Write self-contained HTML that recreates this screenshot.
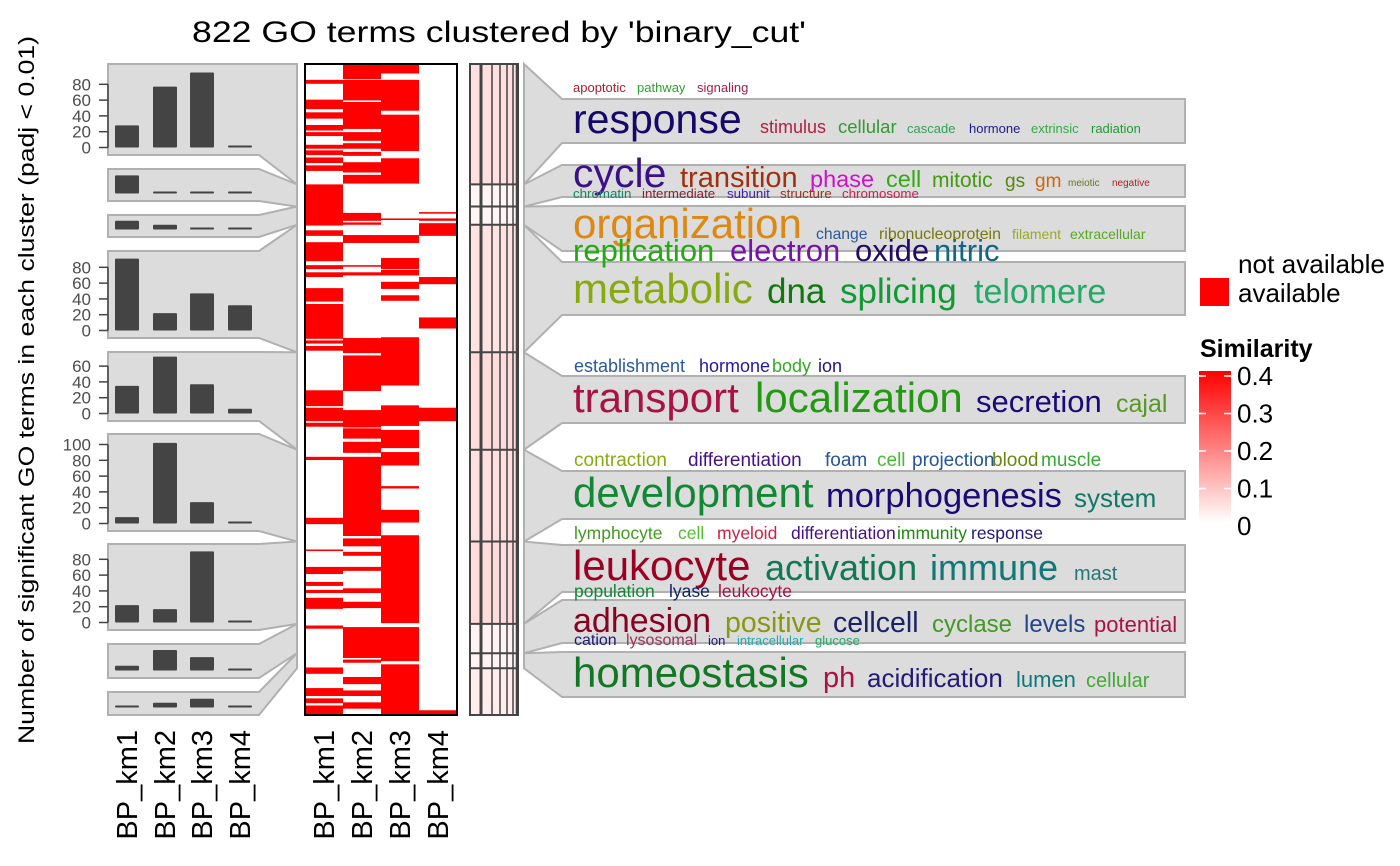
<!DOCTYPE html>
<html><head><meta charset="utf-8"><style>
html,body{margin:0;padding:0;background:#fff;}
svg{display:block;font-family:"Liberation Sans",Arial,sans-serif;}
</style></head><body>
<svg id="chart" width="1400" height="866" viewBox="0 0 1400 866" xmlns="http://www.w3.org/2000/svg">
<text x="192" y="42" font-size="30" textLength="614" lengthAdjust="spacingAndGlyphs" fill="#000">822 GO terms clustered by 'binary_cut'</text>
<text transform="translate(34,390) rotate(-90)" text-anchor="middle" font-size="22" textLength="708" lengthAdjust="spacingAndGlyphs" fill="#000">Number of significant GO terms in each cluster (padj &lt; 0.01)</text>
<g id="left"></g>
<g id="heat"></g>
<g id="strip"></g>
<g id="right"></g>
<g id="words">
 <g font-size="13"><text x="573" y="92" fill="#a81c2c">apoptotic</text><text x="637" y="92" fill="#2ca02c">pathway</text><text x="697" y="92" fill="#a0204a">signaling</text></g>
 <text x="573" y="133" font-size="41" fill="#16086b">response</text>
 <text x="760" y="133" font-size="18" fill="#b22040">stimulus</text>
 <text x="838" y="133" font-size="18.5" fill="#339933">cellular</text>
 <g font-size="13"><text x="907" y="133" fill="#33a055">cascade</text><text x="969" y="133" fill="#1a1a88">hormone</text><text x="1031" y="133" fill="#33aa44">extrinsic</text><text x="1091" y="133" fill="#229933">radiation</text></g>
 <text x="573" y="187" font-size="41" fill="#3b0f8a">cycle</text>
 <text x="680" y="187" font-size="29" fill="#a0300f">transition</text>
 <text x="810" y="187" font-size="23.5" fill="#cc11cc">phase</text>
 <text x="886" y="187" font-size="23.5" fill="#33aa11">cell</text>
 <text x="932" y="187" font-size="21" fill="#449911">mitotic</text>
 <text x="1005" y="187" font-size="19" fill="#558811">gs</text>
 <text x="1035" y="187" font-size="19" fill="#cc6611">gm</text>
 <text x="1068" y="186" font-size="10" fill="#667722">meiotic</text>
 <text x="1112" y="186" font-size="10" fill="#aa2222">negative</text>
 <g font-size="13.3"><text x="573" y="198" fill="#118866">chromatin</text><text x="642" y="198" fill="#882233">intermediate</text><text x="727" y="198" fill="#4422aa">subunit</text><text x="780" y="198" fill="#993322">structure</text><text x="842" y="198" fill="#cc2255">chromosome</text></g>
 <text x="573" y="238" font-size="42" fill="#dd8811">organization</text>
 <text x="816" y="239" font-size="15.7" fill="#2a5a99">change</text>
 <text x="879" y="239" font-size="15.9" fill="#777711">ribonucleoprotein</text>
 <text x="1012" y="239" font-size="14" fill="#99aa22">filament</text>
 <text x="1070" y="239" font-size="14" fill="#55aa22">extracellular</text>
 <text x="573" y="261" font-size="31" fill="#22aa11">replication</text>
 <text x="730" y="261" font-size="31" fill="#7711aa">electron</text>
 <text x="855" y="261" font-size="31" fill="#220a66">oxide</text>
 <text x="934" y="261" font-size="31" fill="#116688">nitric</text>
 <text x="573" y="303" font-size="42" fill="#88aa11">metabolic</text>
 <text x="767" y="303" font-size="35" fill="#117711">dna</text>
 <text x="840" y="303" font-size="35" fill="#119933">splicing</text>
 <text x="974" y="303" font-size="34" fill="#22aa66">telomere</text>
 <g font-size="18"><text x="574" y="372" fill="#2a5a99">establishment</text><text x="699" y="372" fill="#221a99">hormone</text><text x="772" y="372" fill="#33aa22">body</text><text x="818" y="372" fill="#1a1a77">ion</text></g>
 <text x="573" y="412" font-size="42" fill="#aa1144">transport</text>
 <text x="755" y="412" font-size="42" fill="#229911">localization</text>
 <text x="976" y="412" font-size="31" fill="#1a0a77">secretion</text>
 <text x="1116" y="412" font-size="25" fill="#559922">cajal</text>
 <g font-size="19"><text x="574" y="466" fill="#88aa11">contraction</text><text x="688" y="466" fill="#441188">differentiation</text><text x="825" y="466" fill="#225599">foam</text><text x="877" y="466" fill="#44bb33">cell</text><text x="912" y="466" fill="#225599">projection</text><text x="992" y="466" fill="#668811">blood</text><text x="1041" y="466" fill="#33aa33">muscle</text></g>
 <text x="573" y="507" font-size="42" fill="#118833">development</text>
 <text x="826" y="507" font-size="34.5" fill="#1a0a77">morphogenesis</text>
 <text x="1074" y="507" font-size="26" fill="#117766">system</text>
 <g font-size="17.5"><text x="574" y="539" fill="#449922">lymphocyte</text><text x="678" y="539" fill="#55bb33">cell</text><text x="717" y="539" fill="#cc2244">myeloid</text><text x="791" y="539" fill="#441188">differentiation</text><text x="897" y="539" fill="#228811">immunity</text><text x="971" y="539" fill="#221a77">response</text></g>
 <text x="573" y="580" font-size="42" fill="#990022">leukocyte</text>
 <text x="765" y="580" font-size="36" fill="#117755">activation</text>
 <text x="930" y="580" font-size="36" fill="#117777">immune</text>
 <text x="1074" y="580" font-size="20" fill="#227777">mast</text>
 <g font-size="17.5"><text x="574" y="597" fill="#118833">population</text><text x="669" y="597" fill="#112266">lyase</text><text x="718" y="597" fill="#aa1144">leukocyte</text></g>
 <text x="573" y="632" font-size="34" fill="#880022">adhesion</text>
 <text x="725" y="632" font-size="28.5" fill="#889911">positive</text>
 <text x="833" y="632" font-size="28.5" fill="#1a2266">cellcell</text>
 <text x="932" y="632" font-size="24" fill="#449922">cyclase</text>
 <text x="1024" y="632" font-size="24" fill="#224488">levels</text>
 <text x="1094" y="632" font-size="22" fill="#aa1144">potential</text>
 <g font-size="16"><text x="574" y="645" fill="#221a77">cation</text><text x="626" y="645" fill="#993355">lysosomal</text><text x="708" y="645" font-size="13" fill="#1a1a77">ion</text><text x="737" y="645" font-size="13" fill="#22aaaa">intracellular</text><text x="815" y="645" font-size="13" fill="#22aa66">glucose</text></g>
 <text x="573" y="687" font-size="42" fill="#117722">homeostasis</text>
 <text x="823" y="687" font-size="29" fill="#aa1144">ph</text>
 <text x="867" y="687" font-size="26" fill="#221a77">acidification</text>
 <text x="1016" y="687" font-size="22" fill="#117777">lumen</text>
 <text x="1086" y="687" font-size="20" fill="#44aa33">cellular</text>
</g>
<g id="legend">
 <text x="1238" y="273" font-size="26" textLength="147" lengthAdjust="spacingAndGlyphs" fill="#000">not available</text>
 <rect x="1200" y="278" width="29" height="28" fill="#ff0000"/>
 <text x="1238" y="302" font-size="26" fill="#000">available</text>
 <text x="1200" y="357" font-size="25" font-weight="bold" fill="#000">Similarity</text>
 <defs><linearGradient id="sg" x1="0" y1="1" x2="0" y2="0"><stop offset="0" stop-color="#ffffff"/><stop offset="1" stop-color="#ff0000"/></linearGradient></defs>
 <rect x="1199" y="371" width="32" height="152" fill="url(#sg)"/>
 <g id="cbticks"></g>
</g>
<g id="xlabels"></g>
</svg>
<script>
const NS='http://www.w3.org/2000/svg';
function mk(parent,tag,attrs){const e=document.createElementNS(NS,tag);for(const k in attrs)e.setAttribute(k,attrs[k]);parent.appendChild(e);return e;}
// ---------- data ----------
const columns=['BP_km1','BP_km2','BP_km3','BP_km4'];
const totalTerms=822;
const clusterBreaks=[0,152,180,203,364,487,603,707,744,763,822];
const barKm1=[28,23,11,91,35,8,22,6,1];
const barKm2=[77,1,6,22,72,102,17,26,6];
const barKm3=[95,1,2,47,37,27,90,17,11];
const barKm4=[1,1,2,32,6,1,1,1,1];
const panelTicks=[[0,20,40,60,80],[],[],[0,20,40,60,80],[0,20,40,60],[0,20,40,60,80,100],[0,20,40,60,80],[],[]];
const simValues=[0.05,0.015,0.015,0.045,0.055,0.05,0.055,0.02,0.02,0.03];
const cbTicks=[0,0.1,0.2,0.3,0.4];
const heatKm1=[[20,24],[45,56],[61,68],[77,83],[86,90],[102,106],[109,114],[118,124],[128,134],[152,203],[210,216],[225,248],[254,258],[263,268],[283,299],[303,346],[349,352],[356,361],[412,431],[434,450],[453,457],[496,499],[573,580],[613,614],[635,643],[654,658],[664,667],[674,687],[709,712],[762,769],[788,797],[801,806],[810,820]];
const heatKm2=[[1,18],[20,45],[48,81],[86,96],[100,106],[111,115],[124,136],[140,150],[188,197],[200,202],[216,225],[254,255],[263,266],[346,364],[368,412],[437,458],[460,472],[477,490],[496,595],[599,608],[616,620],[635,639],[662,667],[679,686],[711,749],[752,755],[774,782],[791,797],[806,813]];
const heatKm3=[[1,11],[20,58],[64,109],[119,150],[195,196],[216,225],[245,258],[260,266],[275,283],[292,298],[345,405],[431,456],[462,484],[490,506],[533,535],[563,578],[595,705],[711,753],[758,820]];
const heatKm4=[[187,188],[195,197],[201,216],[269,277],[320,333],[434,450],[816,820]];
// ---------- layout ----------
const H0=64,H1=715;
const yRow=r=>H0+(H1-H0)*r/totalTerms;
const unitPx=0.79;
const leftPanels=[[64,155],[169,201],[215,237],[251,338],[352,421],[434,531],[544,630],[644,678],[692,715]];
const rightPanels=[[99,143],[165,197],[206,251],[262,315],[376,423],[471,519],[545,592],[600,643],[652,697]];
const barX=[127,165,202,240];
const L=document.getElementById('left');
const barSeries=[barKm1,barKm2,barKm3,barKm4];
leftPanels.forEach((p,i)=>{
 const ct=yRow(clusterBreaks[i]),cb=yRow(clusterBreaks[i+1]);
 const poly=mk(L,'polygon',{points:`108,${p[0]} 259,${p[0]} 297,${ct} 297,${cb} 259,${p[1]} 108,${p[1]}`,fill:'#dcdcdc',stroke:'#b0b0b0','stroke-width':2});
 
 
 const zero=p[1]-7.5;
 const yv=v=>zero-v*unitPx;
 barSeries.forEach((s,j)=>{
  const h=Math.max(s[i]*unitPx,2);
  const r=mk(L,'rect',{x:barX[j]-12,y:zero-h,width:24,height:h,fill:'#444444',rx:1});
  
  
 });
 const t=panelTicks[i];
 if(t.length){
  const ax=mk(L,'line',{x1:108,x2:108,y1:yv(0),y2:yv(t[t.length-1]),stroke:'#444',"stroke-width":1.5});
  
  
  t.forEach(v=>{
   mk(L,'line',{x1:99,x2:108,y1:yv(v),y2:yv(v),stroke:'#444',"stroke-width":1.5});
   const tx=mk(L,'text',{x:91,y:yv(v)+6,'text-anchor':'end','font-size':17,fill:'#4d4d4d'});
   tx.textContent=v;
   
   
  });
 }
});
const HM=document.getElementById('heat');
const hx=[305,343,381,419];
[heatKm1,heatKm2,heatKm3,heatKm4].forEach((segs,j)=>{
 segs.forEach(s=>{
  const y0=yRow(s[0]),y1=yRow(s[1]+1);
  const r=mk(HM,'rect',{x:hx[j],y:y0,width:38,height:Math.max(y1-y0,1),fill:'#ff0000'});
  
  
 });
});
const hb=mk(HM,'rect',{x:305,y:64,width:152,height:651,fill:'none',stroke:'#000','stroke-width':2});


const S=document.getElementById('strip');
simValues.forEach((v,i)=>{
 const f=Math.min(v/0.4,1);const g=Math.round(255*(1-f));
 const r=mk(S,'rect',{x:470,y:yRow(clusterBreaks[i]),width:48,height:yRow(clusterBreaks[i+1])-yRow(clusterBreaks[i]),fill:`rgb(255,${g},${g})`});
 
 
});
[[481,3],[492,1.5],[500,1.5],[507,1.5],[513,1.5],[517,2.5]].forEach(a=>mk(S,'line',{x1:a[0],x2:a[0],y1:64,y2:715,stroke:'#444','stroke-width':a[1]}));
clusterBreaks.slice(1,-1).forEach(b=>mk(S,'line',{x1:470,x2:518,y1:yRow(b),y2:yRow(b),stroke:'#444','stroke-width':2}));
const sb=mk(S,'rect',{x:470,y:64,width:48,height:651,fill:'none',stroke:'#444','stroke-width':2});


const R=document.getElementById('right');
rightPanels.forEach((p,i)=>{
 const ct=yRow(clusterBreaks[i]),cb=yRow(clusterBreaks[i+1]);
 const poly=mk(R,'polygon',{points:`524,${ct} 562,${p[0]} 1185,${p[0]} 1185,${p[1]} 562,${p[1]} 524,${cb}`,fill:'#dcdcdc',stroke:'#b0b0b0','stroke-width':2});
 
 
});
const CB=document.getElementById('cbticks');
const cbY=v=>526-v*375;
cbTicks.forEach(v=>{
 if(v>0){mk(CB,'line',{x1:1199,x2:1206,y1:cbY(v),y2:cbY(v),stroke:'#fff','stroke-width':1.5});mk(CB,'line',{x1:1224,x2:1231,y1:cbY(v),y2:cbY(v),stroke:'#fff','stroke-width':1.5});}
 const t=mk(CB,'text',{x:1237,y:cbY(v)+9,'font-size':26,fill:'#000'});
 t.textContent=v===0?'0':v.toFixed(1);
 
 
});
const XL=document.getElementById('xlabels');
[...barX, ...hx.map(x=>x+19)].forEach((x,k)=>{
 const t=mk(XL,'text',{transform:`translate(${x+10},730) rotate(-90)`,'text-anchor':'end','font-size':29,fill:'#000'});
 t.textContent=columns[k%4];
 
 
});
</script>
</body></html>
